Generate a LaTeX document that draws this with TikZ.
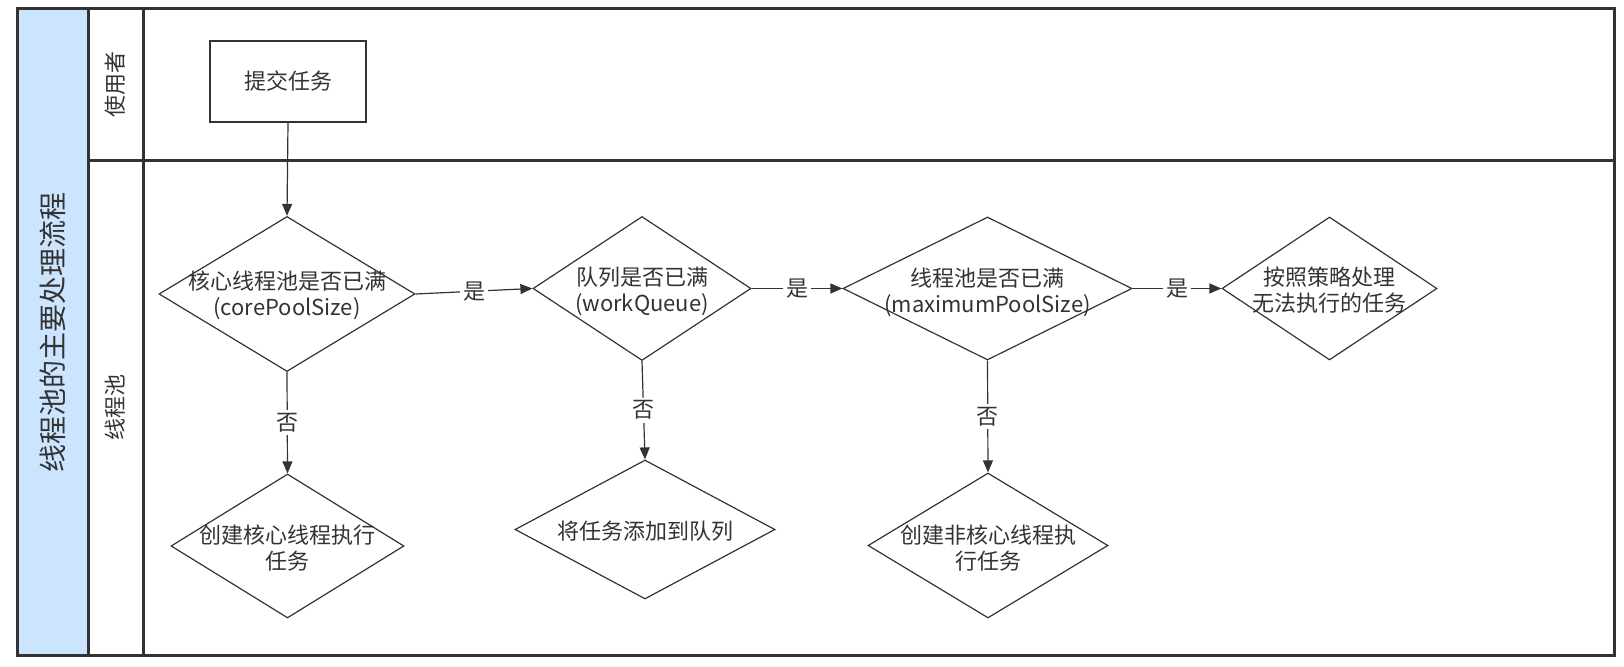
\documentclass[tikz,border=0pt]{standalone}
\usepackage{fontspec}
\setmainfont{Noto Sans CJK SC}
\usetikzlibrary{shapes.geometric,arrows.meta}
\definecolor{linec}{HTML}{333333}
\definecolor{titleblue}{HTML}{CCE5FF}
\begin{document}
\begin{tikzpicture}[x=0.5pt,y=-0.5pt,
  lane/.style={draw=linec,line width=1.5pt},
  dia/.style={diamond,draw=linec,line width=0.6pt,inner sep=0pt},
  txt/.style={align=center,font=\fontsize{11}{13}\selectfont,text=linec,inner sep=0pt},
  flow/.style={draw=linec,line width=0.6pt,-{Triangle[length=6pt,width=5pt]}},
  yn/.style={fill=white,font=\fontsize{11}{13}\selectfont,text=linec,inner sep=1.5pt}]
\useasboundingbox (0,0) rectangle (1624,667);
\fill[titleblue] (17,9) rectangle (88,656);
\draw[lane] (17,9) rectangle (1614,656);
\draw[lane] (88,9) -- (88,656);
\draw[lane] (143,9) -- (143,656);
\draw[lane] (88,161) -- (1614,161);
\node[txt,rotate=90,font=\fontsize{14}{16}\selectfont] (title) at (52.5,333) {线程池的主要处理流程};
\node[txt,rotate=90] (user) at (115.5,85) {使用者};
\node[txt,rotate=90] (pool) at (115.5,408) {线程池};

\node[txt,draw=linec,line width=0.6pt,minimum width=78pt,minimum height=40.5pt] (submit) at (288,81.5) {提交任务};

\node[dia,minimum width=128pt,minimum height=77.5pt] (core) at (287,294) {};
\node[txt] (coretxt) at (287,295) {核心线程池是否已满\\(corePoolSize)};
\node[dia,minimum width=109pt,minimum height=72pt] (queue) at (642,288.5) {};
\node[txt] (queuetxt) at (642,291) {队列是否已满\\(workQueue)};
\node[dia,minimum width=144.5pt,minimum height=71.5pt] (maxpool) at (987.5,288.5) {};
\node[txt] (maxpooltxt) at (987.5,292) {线程池是否已满\\(maximumPoolSize)};
\node[dia,minimum width=107.5pt,minimum height=71.5pt] (reject) at (1329.5,288.5) {};
\node[txt] (rejecttxt) at (1329.5,290.5) {按照策略处理\\无法执行的任务};

\node[dia,minimum width=116.5pt,minimum height=72pt] (addcore) at (287.5,546) {};
\node[txt] (addcoretxt) at (287.5,548) {创建核心线程执行\\任务};
\node[dia,minimum width=130pt,minimum height=69.5pt] (enqueue) at (645,529.5) {};
\node[txt] (enqueuetxt) at (645,531) {将任务添加到队列};
\node[dia,minimum width=120pt,minimum height=72.5pt] (addworker) at (988,545.5) {};
\node[txt] (addworkertxt) at (988,548) {创建非核心线程执\\行任务};

\draw[flow] (submit.south) -- (core.north);
\draw[flow] (core.east) -- node[yn] (yes1) {是} (queue.west);
\draw[flow] (queue.east) -- node[yn] (yes2) {是} (maxpool.west);
\draw[flow] (maxpool.east) -- node[yn] (yes3) {是} (reject.west);
\draw[flow] (core.south) -- node[yn] (no1) {否} (addcore.north);
\draw[flow] (queue.south) -- node[yn] (no2) {否} (enqueue.north);
\draw[flow] (maxpool.south) -- node[yn] (no3) {否} (addworker.north);
\end{tikzpicture}
\end{document}
